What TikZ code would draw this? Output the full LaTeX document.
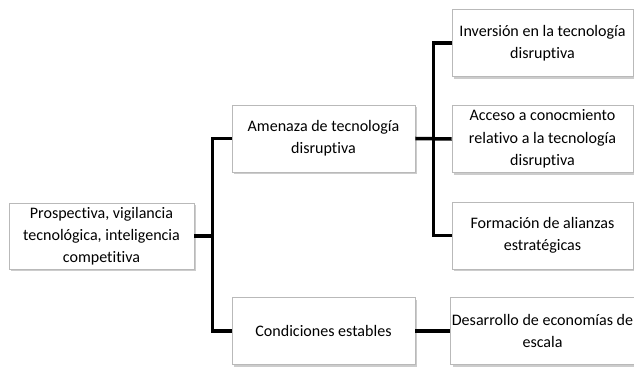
\documentclass[tikz,border=0pt]{standalone}
\usepackage{fontspec}
\setmainfont{Carlito}[Ligatures=NoCommon]
\usetikzlibrary{shadows}
\begin{document}
\begin{tikzpicture}[
    x=0.03cm, y=-0.03cm,
    box/.style={rectangle, draw=gray!55, line width=0.6pt, fill=white, minimum width=5.49cm, minimum height=2.01cm, align=center, inner sep=1pt, font=\fontsize{13.7}{19}\selectfont, drop shadow={shadow xshift=2pt, shadow yshift=-2pt, opacity=0.4}},
    leaf/.style={box, minimum width=5.43cm},
    link/.style={line width=3pt, line join=miter}
]
    \useasboundingbox (0,0) rectangle (634,367);

    % Root and middle level
    \node[box, minimum width=5.55cm, minimum height=1.98cm] (root) at (101.5, 236) {Prospectiva, vigilancia\\tecnológica, inteligencia\\competitiva};
    \node[box] (amenaza) at (323.5, 138.5) {Amenaza de tecnología\\disruptiva};
    \node[box] (cond) at (323.5, 331) {Condiciones estables};

    % Right level
    \node[leaf] (inv) at (542.5, 43) {Inversión en la tecnología\\disruptiva};
    \node[leaf] (acc) at (542.5, 139) {Acceso a conocmiento\\relativo a la tecnología\\disruptiva};
    \node[leaf] (form) at (542.5, 235.5) {Formación de alianzas\\estratégicas};
    \node[leaf] (des) at (542.5, 331) {Desarrollo de economías de\\escala};

    % Connectors
    \draw[link] (root.east) -- ++(19,0);
    \draw[link] (amenaza.west) -- ++(-19,0) |- (cond.west);
    \draw[link] (amenaza.east) -- (acc.west);
    \draw[link] (inv.west) -- ++(-18,0) |- (form.west);
    \draw[link] (cond.east) -- (des.west);
\end{tikzpicture}
\end{document}
